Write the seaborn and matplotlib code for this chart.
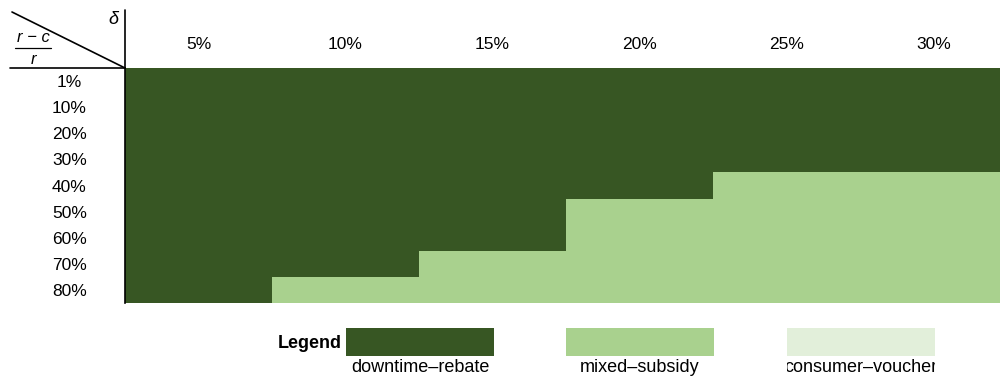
import numpy as np
import pandas as pd
import seaborn as sns
import matplotlib
matplotlib.use("Agg")
import matplotlib.pyplot as plt
from matplotlib.colors import ListedColormap
from matplotlib.lines import Line2D
from matplotlib.patches import Rectangle
from matplotlib.transforms import Bbox

# Subsidy scheme chosen for each (margin ratio, delta) combination
delta_labels = ["5%", "10%", "15%", "20%", "25%", "30%"]
margin_labels = ["1%", "10%", "20%", "30%", "40%", "50%", "60%", "70%", "80%"]
scheme_names = ["downtime–rebate", "mixed–subsidy", "consumer–voucher"]
scheme_colors = ["#375623", "#A9D18E", "#E2EFDA"]

# 0 = downtime-rebate, 1 = mixed-subsidy, 2 = consumer-voucher
scheme_grid = [
    [0, 0, 0, 0, 0, 0],
    [0, 0, 0, 0, 0, 0],
    [0, 0, 0, 0, 0, 0],
    [0, 0, 0, 0, 0, 0],
    [0, 0, 0, 0, 1, 1],
    [0, 0, 0, 1, 1, 1],
    [0, 0, 0, 1, 1, 1],
    [0, 0, 1, 1, 1, 1],
    [0, 1, 1, 1, 1, 1],
]

sns.set_style("white")
plt.rcParams["font.family"] = ["Liberation Sans", "DejaVu Sans"]
plt.rcParams["text.color"] = "black"
plt.rcParams["xtick.color"] = "black"
plt.rcParams["ytick.color"] = "black"

W, H = 1000, 380
fig = plt.figure(figsize=(W / 100, H / 100), dpi=100)


def fx(px):
    return px / W


def fy(py):
    return 1 - py / H


# heatmap axes (last column runs past the right edge of the figure)
ax = fig.add_axes([fx(125), fy(303), fx(882), fy(68) - fy(303)])
df = pd.DataFrame(scheme_grid, index=margin_labels, columns=delta_labels)
sns.heatmap(df, ax=ax, cmap=ListedColormap(scheme_colors), vmin=-0.5, vmax=2.5,
            cbar=False, linewidths=0)

ax.xaxis.tick_top()
ax.tick_params(axis="both", length=0, colors="black")
ax.tick_params(axis="x", pad=17)
ax.tick_params(axis="y", pad=40)
for lab in ax.get_xticklabels():
    lab.set_fontsize(12.5)
    lab.set_va("center")
    lab.set_rotation(0)
    lab.set_color("black")
for lab in ax.get_yticklabels():
    lab.set_fontsize(12.5)
    lab.set_ha("center")
    lab.set_va("center_baseline")
    lab.set_rotation(0)
    lab.set_color("black")

for side in ["top", "right", "bottom"]:
    ax.spines[side].set_visible(False)
ax.spines["left"].set_visible(True)
ax.spines["left"].set_color("black")
ax.spines["left"].set_linewidth(1.2)

# header corner: frame lines and diagonal split
fig.add_artist(Line2D([fx(125), fx(125)], [fy(10), fy(68)], color="black", lw=1.2))
fig.add_artist(Line2D([fx(10), fx(125)], [fy(68), fy(68)], color="black", lw=1.2))
fig.add_artist(Line2D([fx(12), fx(125)], [fy(12), fy(68)], color="black", lw=1.2))
fig.text(fx(113), fy(20), "δ", fontsize=13, style="italic", ha="center", va="center")
fig.text(fx(33), fy(37), "r − c", fontsize=12, style="italic", ha="center", va="center")
fig.add_artist(Line2D([fx(15), fx(51)], [fy(48), fy(48)], color="black", lw=0.9))
fig.text(fx(33), fy(60), "r", fontsize=12, style="italic", ha="center", va="center")

# legend row
fig.text(fx(342), fy(344), "Legend", fontsize=13, fontweight="bold", ha="right", va="center")
legend_left = [346, 566, 787]
for left, name, color in zip(legend_left, scheme_names, scheme_colors):
    fig.add_artist(Rectangle((fx(left), fy(356)), fx(148), fy(328) - fy(356),
                             facecolor=color, edgecolor="none"))
    t = fig.text(fx(left + 74), fy(368), name, fontsize=13, ha="center", va="center")
    t.set_clip_box(Bbox.from_extents(left, 0, left + 148, H))

fig.savefig("out.png", dpi=100)
